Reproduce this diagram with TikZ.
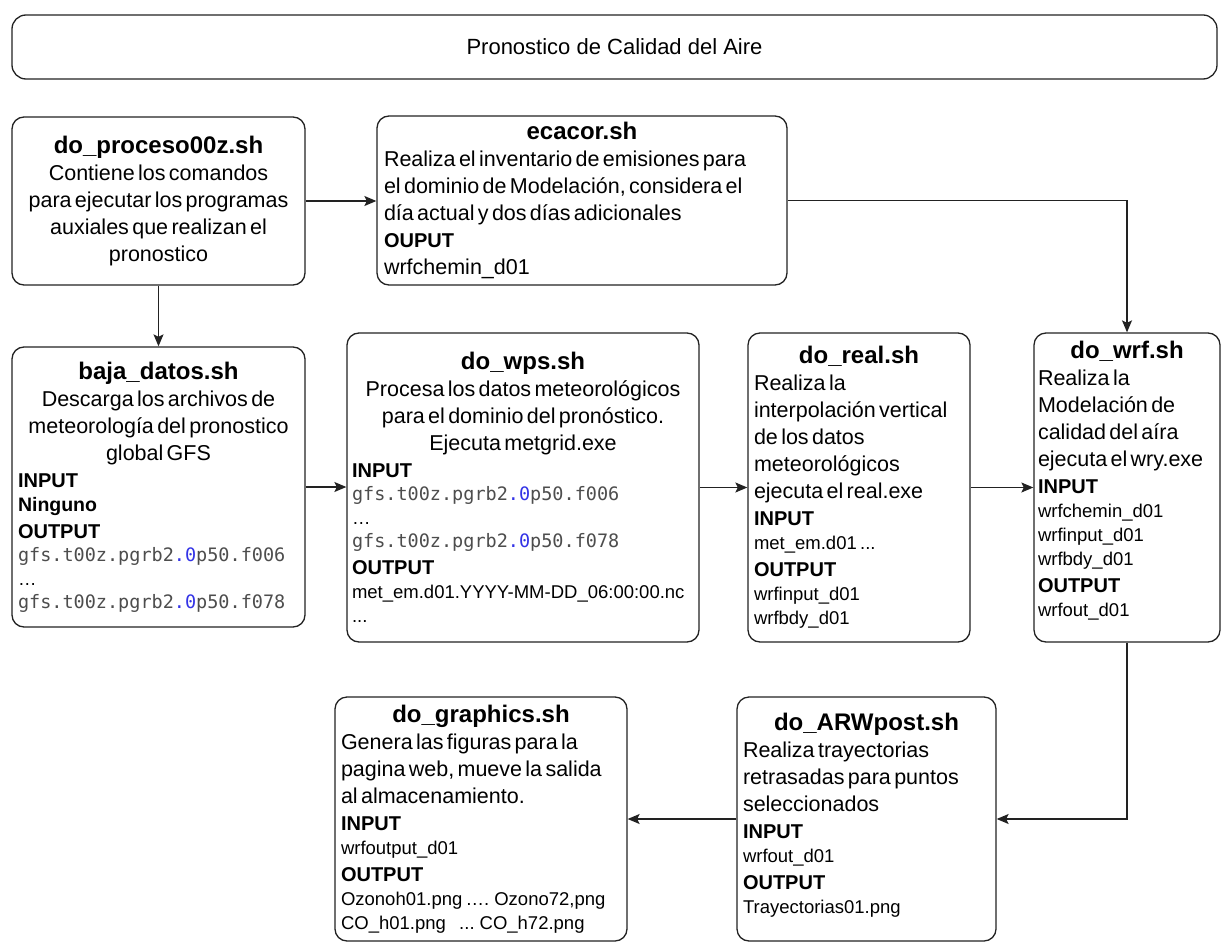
\documentclass[tikz,border=0pt]{standalone}
\usepackage{fontspec}
\setmainfont{Liberation Sans}
\newfontfamily\codefont{DejaVu Sans Mono}
\usetikzlibrary{arrows.meta}

\definecolor{linegray}{HTML}{222222}
\definecolor{codegray}{HTML}{4D4D4D}
\definecolor{codeblue}{HTML}{3333E6}

\newcommand{\boxhead}[1]{{\centering\fontsize{24}{28}\selectfont\bfseries #1\par}}
\newcommand{\bodytext}{\fontsize{21.5}{27}\selectfont}
\newcommand{\smalltext}{\fontsize{18.5}{24}\selectfont}
\newcommand{\iolabel}[1]{{\fontsize{20}{27}\selectfont\bfseries #1\par}}
\newcommand{\gfsfile}[1]{{\codefont\fontsize{18.5}{23}\selectfont\color{codegray}gfs.t00z.pgrb2{\color{codeblue}.0}p50.f#1\par}}
\newcommand{\padbelow}[1]{\par\nointerlineskip\vbox to #1{}}

\begin{document}
\begin{tikzpicture}[x=1pt,y=-1pt,
    proc/.style={draw=linegray, line width=1.3pt, rounded corners=12pt, align=left, inner xsep=5pt, inner ysep=3pt},
    flow/.style={->, draw=linegray, line width=1.3pt},
    >={Stealth[length=12pt,width=10pt,inset=2.5pt]}]
  \useasboundingbox (0,0) rectangle (1222,944);

  % title bar
  \node[proc, rounded corners=14pt, minimum width=1205pt, minimum height=64pt] (title) at (614.5,47)
    {\fontsize{22}{26}\selectfont Pronostico de Calidad del Aire};

  % first row
  \node[proc, text width=283pt, minimum height=168pt] (proceso) at (158.5,201) {%
    \boxhead{do\_proceso00z.sh}
    {\centering\bodytext Contiene los comandos\\ para ejecutar los programas\\ auxiales que realizan el\\ pronostico\par}};
  \node[proc, text width=396pt, minimum height=169pt, inner xsep=7pt] (ecacor) at (582,200.5) {%
    \boxhead{ecacor.sh}
    {\bodytext Realiza el inventario de emisiones para\\ el dominio de Modelación, considera el\\ día actual y dos días adicionales\par}
    \iolabel{OUPUT}
    {\bodytext wrfchemin\_d01\par}};

  % second row
  \node[proc, text width=281pt, minimum height=280pt, inner xsep=6pt] (baja) at (158.5,487) {%
    \boxhead{baja\_datos.sh}
    {\centering\bodytext Descarga los archivos de\\ meteorología del pronostico\\ global GFS\par}
    \iolabel{INPUT}
    {\fontsize{19.5}{24}\selectfont\bfseries Ninguno\par}
    \iolabel{OUTPUT}
    \gfsfile{006}
    {\smalltext …\par}
    \gfsfile{078}};
  \node[proc, text width=342pt, minimum height=309pt] (wps) at (523,487.5) {%
    \boxhead{do\_wps.sh}
    {\centering\bodytext Procesa los datos meteorológicos\\ para el dominio del pronóstico.\\ Ejecuta metgrid.exe\par}
    \iolabel{INPUT}
    \gfsfile{006}
    {\smalltext …\par}
    \gfsfile{078}
    \iolabel{OUTPUT}
    {\smalltext\mbox{met\_em.d01.YYYY-MM-DD\_06:00:00.nc}\\ ...\par}};
  \node[proc, text width=210pt, minimum height=309pt, inner xsep=6pt] (real) at (859,487.5) {%
    \boxhead{do\_real.sh}
    {\bodytext Realiza la\\ interpolación vertical\\ de los datos\\ meteorológicos\\ ejecuta el real.exe\par}
    \iolabel{INPUT}
    {\smalltext met\_em.d01 ...\par}
    \iolabel{OUTPUT}
    {\smalltext wrfinput\_d01\\ wrfbdy\_d01\par}};
  \node[proc, text width=178pt, minimum height=309pt, inner xsep=4pt] (wrf) at (1127,487.5) {%
    \boxhead{do\_wrf.sh}
    {\bodytext Realiza la\\ Modelación de\\ calidad del aíra\\ ejecuta el wry.exe\par}
    \iolabel{INPUT}
    {\smalltext wrfchemin\_d01\\ wrfinput\_d01\\ wrfbdy\_d01\par}
    \iolabel{OUTPUT}
    {\smalltext wrfout\_d01\par}\padbelow{14pt}};

  % third row
  \node[proc, text width=247pt, minimum height=244pt, inner xsep=6pt] (arw) at (866.5,819) {%
    \boxhead{do\_ARWpost.sh}
    {\bodytext Realiza trayectorias\\ retrasadas para puntos\\ seleccionados\par}
    \iolabel{INPUT}
    {\smalltext wrfout\_d01\par}
    \iolabel{OUTPUT}
    {\smalltext Trayectorias01.png\par}\padbelow{8pt}};
  \node[proc, text width=280pt, minimum height=244pt, inner xsep=6pt] (graphics) at (481,819) {%
    \boxhead{do\_graphics.sh}
    {\bodytext Genera las figuras para la\\ pagina web, mueve la salida\\ al almacenamiento.\par}
    \iolabel{INPUT}
    {\smalltext wrfoutput\_d01\par}
    \iolabel{OUTPUT}
    {\smalltext Ozonoh01.png …. Ozono72,png\\ CO\_h01.png\ \ \ \ ... CO\_h72.png\par}};

  % connectors
  \draw[flow] (proceso.east) -- (proceso.east -| ecacor.west);
  \draw[flow] (ecacor.east) -| (wrf.north);
  \draw[flow] (proceso.south) -- (baja.north);
  \draw[flow] (baja.east) -- (baja.east -| wps.west);
  \draw[flow] (wps.east) -- (real.west);
  \draw[flow] (real.east) -- (wrf.west);
  \draw[flow] (wrf.south) |- (arw.east);
  \draw[flow] (arw.west) -- (graphics.east);
\end{tikzpicture}
\end{document}
